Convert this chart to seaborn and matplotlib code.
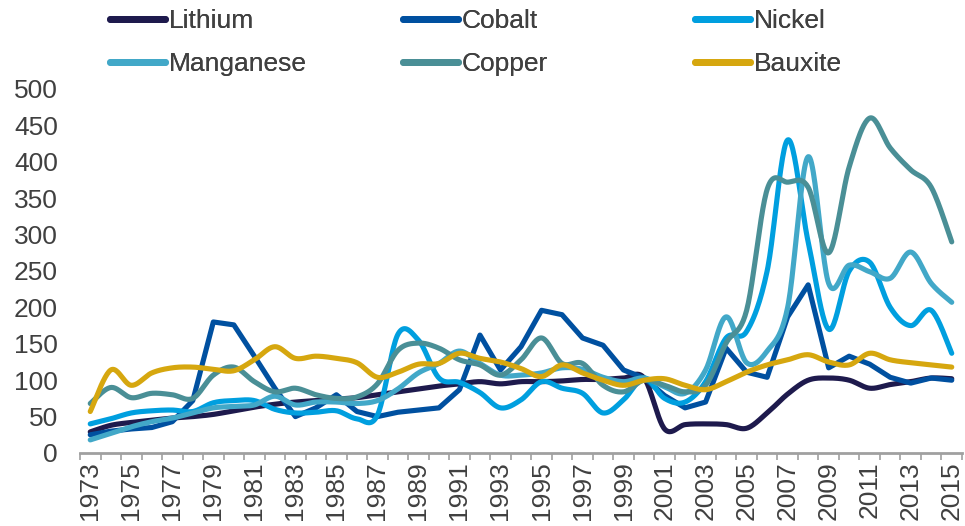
import numpy as np
import pandas as pd
import matplotlib
matplotlib.use("Agg")
import matplotlib.pyplot as plt
import seaborn as sns
from matplotlib.lines import Line2D

years = list(range(1973, 2016))
lithium = [29, 38, 42, 45, 48, 50, 53, 58, 63, 67, 70, 72, 74, 76, 80, 84, 88, 92, 95, 98, 95, 98, 98, 99, 101, 101, 103, 103,
           33, 39, 40, 39, 34, 55, 81, 100, 103, 100, 89, 94, 98, 103, 102]
cobalt = [25, 30, 33, 35, 43, 72, 180, 176, 133, 89, 50, 62, 80, 57, 50, 56, 59, 62, 87, 162, 114, 146, 196, 190, 158, 148,
          114, 103, 79, 62, 70, 144, 111, 104, 187, 231, 117, 133, 122, 104, 96, 103, 100]
nickel = [40, 47, 55, 58, 59, 57, 69, 72, 72, 60, 55, 56, 58, 47, 52, 163, 155, 103, 97, 83, 62, 73, 98, 89, 82, 55, 73,
          103, 75, 70, 98, 158, 167, 250, 430, 290, 170, 250, 262, 200, 175, 196, 137]
manganese = [18, 27, 36, 43, 48, 55, 62, 64, 66, 78, 66, 70, 70, 68, 72, 88, 110, 123, 140, 123, 107, 107, 110, 117, 115,
             104, 98, 103, 91, 82, 114, 187, 124, 140, 200, 407, 233, 258, 249, 240, 276, 233, 207]
copper = [68, 90, 76, 82, 80, 75, 107, 118, 98, 84, 89, 80, 75, 77, 95, 141, 151, 144, 128, 121, 107, 128, 158, 123, 123,
          93, 84, 100, 93, 84, 93, 151, 196, 362, 372, 365, 275, 393, 460, 419, 389, 365, 290]
bauxite = [57, 114, 93, 110, 117, 118, 115, 113, 128, 146, 130, 133, 130, 124, 104, 111, 122, 123, 137, 130, 125, 116, 105,
           121, 110, 100, 93, 100, 102, 93, 87, 98, 111, 121, 128, 135, 125, 121, 137, 128, 124, 121, 118]

series_names = ["Lithium", "Cobalt", "Nickel", "Manganese", "Copper", "Bauxite"]
series_values = [lithium, cobalt, nickel, manganese, copper, bauxite]
smoothed = [True, False, True, True, True, True]
colors = ["#1E1A4D", "#0050A0", "#009FDF", "#42A8C8", "#4A8F96", "#D6A70F"]
y_ticks = list(range(0, 501, 50))


def smooth(x, y, n=24):
    P = np.column_stack([x, y]).astype(float)
    ext = np.vstack([P[0], P, P[-1]])
    t = np.linspace(0, 1, n, endpoint=False)[:, None]
    out = []
    for i in range(len(P) - 1):
        p0, p1, p2, p3 = ext[i], ext[i + 1], ext[i + 2], ext[i + 3]
        c1 = p1 + (p2 - p0) / 6
        c2 = p2 - (p3 - p1) / 6
        seg = (1 - t) ** 3 * p1 + 3 * (1 - t) ** 2 * t * c1 + 3 * (1 - t) * t ** 2 * c2 + t ** 3 * p2
        out.append(seg)
    out.append(P[-1:])
    return np.vstack(out)


frames = []
xpos = np.arange(len(years))
for name, vals, sm in zip(series_names, series_values, smoothed):
    if sm:
        s = smooth(xpos, vals)
    else:
        s = np.column_stack([xpos, vals]).astype(float)
    frames.append(pd.DataFrame({"x": s[:, 0], "y": s[:, 1], "series": name}))
df = pd.concat(frames, ignore_index=True)

sns.set_theme(style="white")
plt.rcParams["font.family"] = ["Liberation Sans", "DejaVu Sans"]

fig = plt.figure(figsize=(9.65, 5.26), dpi=100)
ax = fig.add_axes([80 / 965, 1 - 453 / 526, (962 - 80) / 965, (453 - 89) / 526])

sns.lineplot(data=df, x="x", y="y", hue="series", hue_order=series_names,
             palette=dict(zip(series_names, colors)), sort=False, estimator=None,
             linewidth=3.7, legend=False, ax=ax)
for ln in ax.get_lines():
    ln.set_solid_joinstyle("round")
    ln.set_solid_capstyle("round")

ax.set_xlim(-0.5, len(years) - 0.5)
ax.set_ylim(0, 500)
ax.set_yticks(y_ticks)
ax.set_yticklabels([str(v) for v in y_ticks])
ax.set_xticks(xpos[::2])
ax.set_xticklabels([str(y) for y in years[::2]], rotation=90)
ax.set_xticks(np.arange(-0.5, len(years), 1), minor=True)
ax.tick_params(axis="x", which="major", length=0, pad=6, labelsize=19, labelcolor="#404040")
ax.tick_params(axis="x", which="minor", length=5, width=1.2, color="#A0A0A0", bottom=True)
ax.tick_params(axis="y", length=0, pad=16, labelsize=19, labelcolor="#404040")
ax.set_xlabel("")
ax.set_ylabel("")
for sp in ["top", "right", "left"]:
    ax.spines[sp].set_visible(False)
ax.spines["bottom"].set_color("#A0A0A0")
ax.spines["bottom"].set_linewidth(2)

handles = [Line2D([0], [0], color=c, lw=5, solid_capstyle="round") for c in colors]
col_x = [110, 403, 695]
for j in range(3):
    idx = [j, j + 3]
    leg = fig.legend([handles[i] for i in idx], [series_names[i] for i in idx],
                     loc="upper left", bbox_to_anchor=(col_x[j] / 965, 1 - 9 / 526),
                     frameon=False, fontsize=19, handlelength=2.1, handletextpad=0.12,
                     borderpad=0, borderaxespad=0, labelspacing=0.72,
                     labelcolor="#404040")
    fig.add_artist(leg)

fig.savefig("out.png", dpi=100)
